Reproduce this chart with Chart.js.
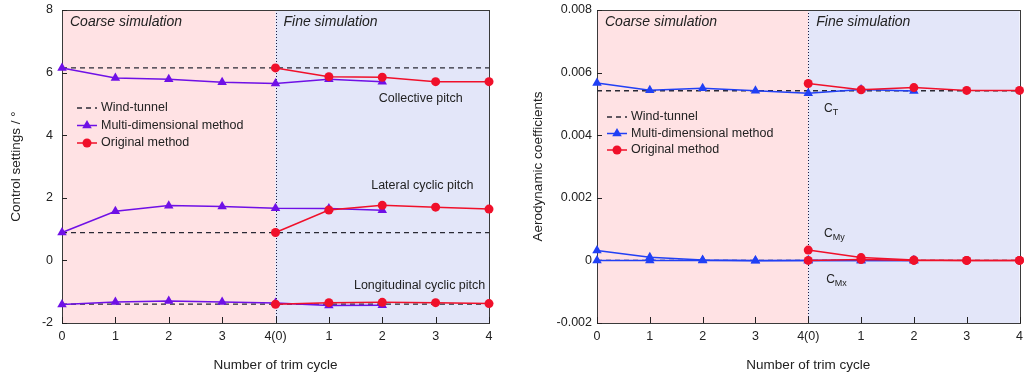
<!DOCTYPE html>
<html>
<head>
<meta charset="utf-8">
<script src="https://cdn.jsdelivr.net/npm/chart.js@4/dist/chart.umd.min.js"></script>
<style>
  body { margin: 0; background: #fff; }
  .panel { position: absolute; top: 0; }
</style>
</head>
<body>
<div class="panel" style="left:0"><canvas id="pitchChart" width="512" height="376"></canvas></div>
<div class="panel" style="left:512px"><canvas id="coefChart" width="513" height="376"></canvas></div>
<script>
// --- data ---
const cycleLabels = ["0", "1", "2", "3", "4(0)", "1", "2", "3", "4"];
const multiCycles = [0, 1, 2, 3, 4, 5, 6];
const origCycles = [4, 5, 6, 7, 8];
const tunnelCycles = [0, 8];
const splitCycle = 4;

const pitchTicks = [-2, 0, 2, 4, 6, 8];
const tunnelCollective = [6.15, 6.15];
const multiCollective = [6.15, 5.83, 5.79, 5.69, 5.65, 5.79, 5.71];
const origCollective = [6.15, 5.87, 5.85, 5.71, 5.71];
const tunnelLateral = [0.89, 0.89];
const multiLateral = [0.89, 1.57, 1.75, 1.72, 1.67, 1.66, 1.6];
const origLateral = [0.89, 1.61, 1.76, 1.7, 1.64];
const tunnelLongitudinal = [-1.4, -1.4];
const multiLongitudinal = [-1.41, -1.33, -1.3, -1.33, -1.36, -1.44, -1.43];
const origLongitudinal = [-1.4, -1.35, -1.34, -1.35, -1.38];

const coefTicks = [-0.002, 0, 0.002, 0.004, 0.006, 0.008];
const tunnelCT = [0.00542, 0.00542];
const multiCT = [0.00567, 0.00544, 0.0055, 0.00542, 0.00534, 0.00546, 0.00541];
const origCT = [0.00565, 0.00545, 0.00552, 0.00543, 0.00543];
const tunnelMoment = [0, 0];
const multiCMy = [0.00032, 0.0001, 0.00001, 0, 0, 0, 0];
const origCMy = [0.00033, 0.00009, 0.00001, 0, 0];
const multiCMx = [0, 0, 0, -0.00001, 0, 0, 0];
const origCMx = [0, 0.00003, 0, 0, 0];

// --- styles ---
const FONT = "'Liberation Sans', Arial, sans-serif";
const TEXT = "#222";
const RED = "#f0102a";
const PURPLE = "#6f10e6";
const BLUE = "#2140f5";
const TUNNEL = "#2a2a35";
const COARSE_FILL = "#ffe2e4";
const FINE_FILL = "#e3e6f9";

const pts = (xs, ys) => xs.map((x, i) => ({ x: x, y: ys[i] }));

function origSet(ys) {
  return {
    data: pts(origCycles, ys), borderColor: RED, backgroundColor: RED,
    borderWidth: 1.5, pointStyle: "circle", pointRadius: 4.5,
    pointBorderWidth: 0, clip: false,
  };
}
function multiSet(ys, color) {
  return {
    data: pts(multiCycles, ys), borderColor: color, backgroundColor: color,
    borderWidth: 1.5, pointStyle: "triangle", pointRadius: 5.5,
    pointBorderWidth: 0, clip: false,
  };
}
function tunnelSet(ys) {
  return {
    data: pts(tunnelCycles, ys), borderColor: TUNNEL, borderWidth: 1.3,
    borderDash: [5, 4], pointRadius: 0, clip: false,
  };
}

// --- background, frame, inward ticks, labels, legend ---
const panelPlugin = {
  id: "panel",
  beforeDatasetsDraw(chart) {
    const { ctx, chartArea: a, scales: { x, y } } = chart;
    const split = x.getPixelForValue(splitCycle);
    ctx.save();
    ctx.fillStyle = COARSE_FILL;
    ctx.fillRect(a.left, a.top, split - a.left, a.bottom - a.top);
    ctx.fillStyle = FINE_FILL;
    ctx.fillRect(split, a.top, a.right - split, a.bottom - a.top);

    // dotted divider
    ctx.strokeStyle = "#1a1a40";
    ctx.lineWidth = 1;
    ctx.setLineDash([1, 2]);
    ctx.beginPath();
    ctx.moveTo(Math.round(split) + 0.5, a.top);
    ctx.lineTo(Math.round(split) + 0.5, a.bottom);
    ctx.stroke();
    ctx.setLineDash([]);

    // frame
    ctx.strokeStyle = "#3a3a3a";
    ctx.strokeRect(Math.round(a.left) + 0.5, Math.round(a.top) + 0.5,
      Math.round(a.right - a.left), Math.round(a.bottom - a.top));

    // tick marks pointing inward
    ctx.strokeStyle = "#222";
    ctx.beginPath();
    x.ticks.forEach((t) => {
      const px = Math.round(x.getPixelForValue(t.value)) + 0.5;
      ctx.moveTo(px, a.bottom);
      ctx.lineTo(px, a.bottom - 6);
    });
    y.ticks.forEach((t) => {
      const py = Math.round(y.getPixelForValue(t.value)) + 0.5;
      ctx.moveTo(a.left, py);
      ctx.lineTo(a.left + 5, py);
    });
    ctx.stroke();
    ctx.restore();
  },
  afterDraw(chart, args, opts) {
    const { ctx, chartArea: a, scales: { x, y } } = chart;
    const split = x.getPixelForValue(splitCycle);
    ctx.save();
    ctx.fillStyle = TEXT;
    ctx.textBaseline = "middle";
    ctx.textAlign = "left";
    ctx.font = "italic 14px " + FONT;
    ctx.fillText("Coarse simulation", a.left + 8, a.top + 12);
    ctx.fillText("Fine simulation", split + 8, a.top + 12);

    // curve labels
    opts.notes.forEach((n) => {
      const px = x.getPixelForValue(n.x);
      const py = y.getPixelForValue(n.y);
      if (n.sub) {
        ctx.textAlign = "left";
        ctx.font = "12px " + FONT;
        ctx.fillText(n.text, px, py);
        const w = ctx.measureText(n.text).width;
        ctx.font = "9px " + FONT;
        ctx.fillText(n.sub, px + w, py + 4);
      } else {
        ctx.textAlign = "center";
        ctx.font = "12.5px " + FONT;
        ctx.fillText(n.text, px, py);
      }
    });

    // legend
    const lg = opts.legend;
    const lx = a.left + lg.dx;
    const rows = [
      { label: "Wind-tunnel", color: TUNNEL, dash: true },
      { label: "Multi-dimensional method", color: lg.multiColor, style: "triangle", r: 5.5 },
      { label: "Original method", color: RED, style: "circle", r: 4.5 },
    ];
    rows.forEach((row, i) => {
      const ly = a.top + lg.dy + i * lg.step;
      ctx.strokeStyle = row.color;
      ctx.fillStyle = row.color;
      ctx.lineWidth = row.dash ? 1.3 : 1.5;
      ctx.setLineDash(row.dash ? [5, 4] : []);
      ctx.beginPath();
      ctx.moveTo(lx, ly);
      ctx.lineTo(lx + lg.len, ly);
      ctx.stroke();
      ctx.setLineDash([]);
      if (row.style) {
        Chart.helpers.drawPoint(ctx, { pointStyle: row.style, radius: row.r, borderWidth: 0, rotation: 0 },
          lx + lg.len / 2, ly);
      }
      ctx.fillStyle = TEXT;
      ctx.textAlign = "left";
      ctx.font = "12.5px " + FONT;
      ctx.fillText(row.label, lx + lg.len + 4, ly);
    });
    ctx.restore();
  },
};

function makeOptions(cfg) {
  return {
    responsive: false,
    animation: false,
    layout: { padding: { top: 10, right: cfg.padRight, bottom: 0, left: 0 } },
    plugins: {
      legend: { display: false },
      tooltip: { enabled: false },
      panel: { notes: cfg.notes, legend: cfg.legend },
    },
    elements: { line: { tension: 0 } },
    scales: {
      x: {
        type: "linear", min: 0, max: 8,
        afterBuildTicks: (s) => { s.ticks = cycleLabels.map((_, i) => ({ value: i })); },
        afterFit: (s) => { s.height = 53; },
        // gap between axis and labels comes from tickLength so it does not push the plot edges
        grid: { display: false, drawTicks: true, tickLength: 6 },
        border: { display: false },
        ticks: {
          padding: 0, color: TEXT, font: { family: FONT, size: 12.5 },
          maxRotation: 0, autoSkip: false,
          callback: (v) => cycleLabels[v],
        },
        title: {
          display: true, text: "Number of trim cycle", color: TEXT,
          font: { family: FONT, size: 13.5 }, padding: { top: 0, bottom: 3 },
        },
      },
      y: {
        type: "linear", min: cfg.yTicks[0], max: cfg.yTicks[cfg.yTicks.length - 1],
        afterBuildTicks: (s) => { s.ticks = cfg.yTicks.map((v) => ({ value: v })); },
        afterFit: (s) => { s.width = cfg.yWidth; },
        grid: { display: false, drawTicks: true, tickLength: cfg.tickPad },
        border: { display: false },
        ticks: {
          padding: 0, color: TEXT, font: { family: FONT, size: 12.5 },
          callback: cfg.format,
        },
        title: {
          display: true, text: cfg.yTitle, color: TEXT,
          font: { family: FONT, size: 13.5 }, padding: { top: cfg.titlePad, bottom: 0 },
        },
      },
    },
  };
}

new Chart(document.getElementById("pitchChart"), {
  type: "line",
  data: {
    datasets: [
      origSet(origCollective), origSet(origLateral), origSet(origLongitudinal),
      multiSet(multiCollective, PURPLE), multiSet(multiLateral, PURPLE), multiSet(multiLongitudinal, PURPLE),
      tunnelSet(tunnelCollective), tunnelSet(tunnelLateral), tunnelSet(tunnelLongitudinal),
    ],
  },
  options: makeOptions({
    padRight: 23, yWidth: 62, tickPad: 9, titlePad: 8,
    yTicks: pitchTicks, yTitle: "Control settings / °",
    format: (v) => String(v),
    notes: [
      { text: "Collective pitch", x: 6.72, y: 5.18 },
      { text: "Lateral cyclic pitch", x: 6.75, y: 2.4 },
      { text: "Longitudinal cyclic pitch", x: 6.7, y: -0.8 },
    ],
    legend: { dx: 15, dy: 98, step: 17.5, len: 20, multiColor: PURPLE },
  }),
  plugins: [panelPlugin],
});

new Chart(document.getElementById("coefChart"), {
  type: "line",
  data: {
    datasets: [
      origSet(origCT), origSet(origCMy), origSet(origCMx),
      multiSet(multiCT, BLUE), multiSet(multiCMy, BLUE), multiSet(multiCMx, BLUE),
      tunnelSet(tunnelCT), tunnelSet(tunnelMoment),
    ],
  },
  options: makeOptions({
    padRight: 4, yWidth: 85, tickPad: 5, titlePad: 18,
    yTicks: coefTicks, yTitle: "Aerodynamic coefficients",
    format: (v) => (v === 0 ? "0" : v.toFixed(3)),
    notes: [
      { text: "C", sub: "T", x: 4.3, y: 0.00486 },
      { text: "C", sub: "My", x: 4.3, y: 0.00086 },
      { text: "C", sub: "Mx", x: 4.34, y: -0.00061 },
    ],
    legend: { dx: 10, dy: 107, step: 16.5, len: 20, multiColor: BLUE },
  }),
  plugins: [panelPlugin],
});
</script>
</body>
</html>
